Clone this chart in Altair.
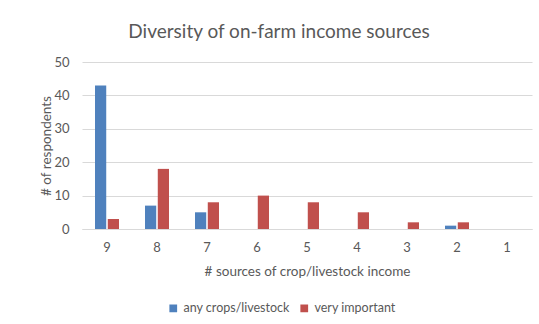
import altair as alt
import pandas as pd

categories = ["9", "8", "7", "6", "5", "4", "3", "2", "1"]
any_crops = [43, 7, 5, 0, 0, 0, 0, 1, 0]
very_important = [3, 18, 8, 10, 8, 5, 2, 2, 0]
series_names = ["any crops/livestock", "very important"]
colors = ["#4F81BD", "#C0504D"]

rows = []
for c, a, v in zip(categories, any_crops, very_important):
    rows.append({"cat": c, "series": series_names[0], "value": a})
    rows.append({"cat": c, "series": series_names[1], "value": v})
df = pd.DataFrame(rows)

FONT = "Lato"
GRAY = "#595959"

chart = alt.Chart(df).mark_bar().encode(
    x=alt.X("cat:N", sort=categories,
            scale=alt.Scale(paddingInner=0.52, paddingOuter=0.26),
            axis=alt.Axis(title="# sources of crop/livestock income", labelAngle=0,
                          ticks=False, domainColor="#D9D9D9", labelPadding=12,
                          titlePadding=10, grid=False)),
    xOffset=alt.XOffset("series:N", sort=series_names,
                        scale=alt.Scale(paddingInner=0.12)),
    y=alt.Y("value:Q", scale=alt.Scale(domain=[0, 50]),
            axis=alt.Axis(title="# of respondents", values=[0, 10, 20, 30, 40, 50],
                          ticks=False, domain=False, gridColor="#D9D9D9",
                          labelPadding=13, titlePadding=0)),
    color=alt.Color("series:N", sort=series_names,
                    scale=alt.Scale(domain=series_names, range=colors),
                    legend=alt.Legend(title=None, orient="none", direction="horizontal",
                                      legendX=85, legendY=240, symbolType="square",
                                      symbolSize=60, columnPadding=8, labelFontSize=12.5,
                                      labelOffset=4,
                                      labelColor=GRAY, labelFont=FONT, symbolStrokeWidth=0)),
).properties(
    width=450, height=167,
    title=alt.Title("Diversity of on-farm income sources", fontSize=19, font=FONT,
                    fontWeight="normal", color=GRAY, anchor="middle", dx=-28, offset=14),
    padding={"left": 82, "top": 62, "right": 7, "bottom": 95},
    autosize=alt.AutoSizeParams(type="none"),
).configure_axis(
    labelFont=FONT, titleFont=FONT, labelFontSize=13, titleFontSize=13.5,
    labelColor=GRAY, titleColor=GRAY, titleFontWeight="normal",
).configure_view(stroke=None)

chart.save("out.html", embed_options={"renderer": "svg", "actions": False})
